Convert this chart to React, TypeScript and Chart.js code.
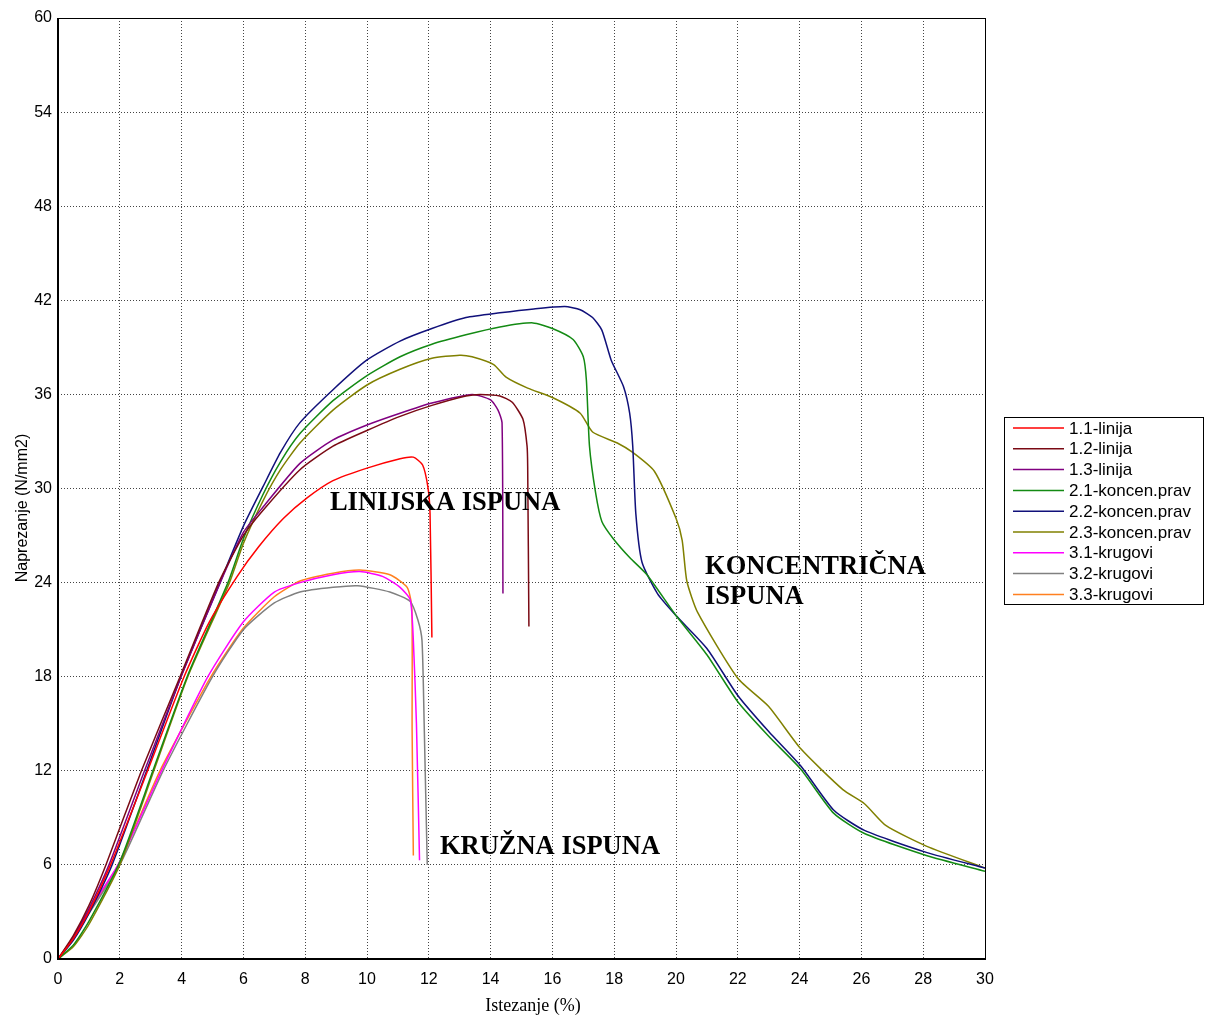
import React, { useEffect, useRef } from "react";
import { Chart, registerables } from "chart.js";

Chart.register(...registerables);

type P = { x: number; y: number };

// ---- Data (strain %, stress N/mm2) ----
const seriesNames = [
  "1.1-linija",
  "1.2-linija",
  "1.3-linija",
  "2.1-koncen.prav",
  "2.2-koncen.prav",
  "2.3-koncen.prav",
  "3.1-krugovi",
  "3.2-krugovi",
  "3.3-krugovi",
];

const seriesColors = [
  "#ff0000",
  "#7a0a14",
  "#800080",
  "#138a13",
  "#10107a",
  "#808000",
  "#ff00ff",
  "#808080",
  "#ff8020",
];

const s11: [number, number][] = [
  [0, 0], [0.5, 1.3], [1, 3.0], [1.7, 6], [2.9, 12], [4.08, 18], [4.9, 21.5], [5.8, 24.4],
  [6.5, 26.3], [7.3, 28.1], [8.06, 29.4], [8.9, 30.5], [10, 31.3], [11.07, 31.9],
  [11.5, 32.0], [11.8, 31.5], [11.97, 30.1], [12.04, 28.4], [12.1, 20.5],
];
const s12: [number, number][] = [
  [0, 0], [0.5, 1.5], [1, 3.4], [1.55, 6], [2.7, 12], [3.95, 18], [5.2, 24], [6.0, 27.0],
  [6.63, 28.6], [7.83, 31.2], [8.9, 32.7], [10, 33.7], [11.07, 34.6], [12.1, 35.3],
  [13.2, 35.9], [13.66, 36.0], [14.3, 35.9], [14.7, 35.5], [15.05, 34.4], [15.18, 32.7],
  [15.2, 31.4], [15.24, 21.2],
];
const s13: [number, number][] = [
  [0, 0], [0.5, 1.4], [1, 3.2], [1.65, 6], [2.8, 12], [3.98, 18], [5.25, 24], [6.0, 27.2],
  [6.63, 28.8], [7.83, 31.6], [8.9, 33.1], [10, 34.05], [11.07, 34.8], [12.1, 35.45],
  [13.4, 36.0], [14.0, 35.65], [14.24, 35.0], [14.37, 34.2], [14.4, 23.3],
];
const s21: [number, number][] = [
  [0, 0], [0.5, 0.9], [1, 2.4], [2, 6.2], [3.07, 12], [4.18, 18], [5.5, 24], [6.0, 26.8],
  [6.63, 29.6], [7.2, 31.7], [7.83, 33.5], [8.9, 35.6], [10, 37.2], [11.07, 38.4],
  [12.1, 39.2], [13.2, 39.8], [14.3, 40.3], [15.37, 40.56], [16.0, 40.2], [16.67, 39.5],
  [17.0, 38.4], [17.1, 36.9], [17.2, 32.7], [17.4, 29.7], [17.6, 27.9], [17.97, 26.8],
  [18.5, 25.6], [19.06, 24.5], [20, 21.9], [21, 19.4], [22, 16.4], [23, 14.2], [24.04, 12.1],
  [25.1, 9.3], [26.1, 8.0], [28.1, 6.6], [30, 5.6],
];
const s22: [number, number][] = [
  [0, 0], [0.5, 1.2], [1, 2.9], [1.75, 6], [2.87, 12], [3.98, 18], [5.24, 24], [6.0, 27.6],
  [6.63, 30.1], [7.2, 32.3], [7.83, 34.2], [8.9, 36.3], [10, 38.2], [11.07, 39.4],
  [12.1, 40.2], [13.2, 40.9], [14.3, 41.2], [15.4, 41.45], [16.4, 41.6], [16.9, 41.4],
  [17.3, 40.9], [17.6, 40.1], [17.9, 38.2], [18.3, 36.5], [18.5, 34.8], [18.6, 32.7],
  [18.7, 28.4], [18.9, 25.3], [19.4, 23.3], [20, 21.9], [21, 19.8], [22, 16.8], [23, 14.5],
  [24.04, 12.3], [25.1, 9.5], [26.1, 8.2], [28.1, 6.8], [30, 5.8],
];
const s23: [number, number][] = [
  [0, 0], [0.5, 0.8], [1, 2.2], [2, 6.0], [3.1, 12], [4.2, 18], [5.55, 24], [6.0, 26.5],
  [6.63, 29.2], [7.2, 31.2], [7.83, 32.9], [8.9, 35.0], [10, 36.6], [11.07, 37.6],
  [12.1, 38.3], [13.0, 38.5], [13.4, 38.4], [14.1, 37.9], [14.5, 37.1], [15.2, 36.4],
  [16.0, 35.8], [16.9, 34.8], [17.3, 33.6], [18.1, 32.9], [18.6, 32.3], [19.3, 31.1],
  [20.0, 28.1], [20.2, 26.7], [20.35, 24.1], [20.7, 22.1], [22, 17.9], [23, 16.1],
  [24.04, 13.4], [25.4, 10.8], [26.1, 9.9], [26.8, 8.5], [28.1, 7.2], [30, 5.8],
];
const s31: [number, number][] = [
  [0, 0], [0.5, 1.4], [1, 3.1], [1.94, 6], [3.35, 12], [4.85, 18], [6, 21.5], [7.0, 23.4],
  [7.83, 24.0], [8.9, 24.5], [9.77, 24.7], [10.5, 24.4], [11.07, 23.7], [11.4, 22.9],
  [11.5, 20.3], [11.6, 15], [11.7, 6.3],
];
const s32: [number, number][] = [
  [0, 0], [0.5, 1.3], [1, 2.9], [2.0, 6], [3.4, 12], [5.0, 18], [6, 21.0], [7, 22.7],
  [7.83, 23.4], [8.9, 23.7], [9.7, 23.8], [10.74, 23.4], [11.4, 22.8], [11.65, 21.6],
  [11.78, 20.3], [11.85, 15], [11.95, 6.0],
];
const s33: [number, number][] = [
  [0, 0], [0.5, 1.35], [1, 3.0], [1.95, 6], [3.3, 12], [4.95, 18], [6, 21.1], [7, 23.1],
  [7.83, 24.1], [8.9, 24.6], [9.77, 24.8], [10.74, 24.5], [11.3, 23.7], [11.45, 22.4],
  [11.46, 14.6], [11.5, 6.6],
];

const seriesData = [s11, s12, s13, s21, s22, s23, s31, s32, s33];

const xTicks = { min: 0, max: 30, step: 2 };
const yTicks = { min: 0, max: 60, step: 6 };

const xTitle = "Istezanje (%)";
const yTitle = "Naprezanje (N/mm2)";

// annotation texts, anchored at (strain, stress) of their left baseline
const annotationTexts = ["LINIJSKA ISPUNA", "KONCENTRIČNA", "ISPUNA", "KRUŽNA ISPUNA"];
const annotationX = [8.8, 20.94, 20.94, 12.36];
const annotationY = [28.64, 24.55, 22.64, 6.7];

const W = 1205;
const H = 1019;

const overlayPlugin = {
  id: "overlay",
  afterDraw(chart: any) {
    const { ctx, chartArea, scales } = chart;
    const { left, top, right, bottom } = chartArea;
    ctx.save();
    // frame
    ctx.strokeStyle = "#000";
    ctx.lineWidth = 1;
    ctx.strokeRect(left + 0.5, top + 0.5, right - left, bottom - top);
    ctx.lineWidth = 2;
    ctx.beginPath();
    ctx.moveTo(left, top);
    ctx.lineTo(left, bottom);
    ctx.lineTo(right, bottom);
    ctx.stroke();

    // annotations
    ctx.fillStyle = "#000";
    ctx.font = "bold 26.5px 'Liberation Serif', 'Times New Roman', serif";
    ctx.textAlign = "left";
    ctx.textBaseline = "alphabetic";
    annotationTexts.forEach((t, i) => {
      const px = scales.x.getPixelForValue(annotationX[i]);
      const py = scales.y.getPixelForValue(annotationY[i]);
      ctx.fillText(t, px, py);
    });

    // axis titles
    ctx.font = "18px 'Liberation Serif', 'Times New Roman', serif";
    ctx.textAlign = "center";
    ctx.textBaseline = "alphabetic";
    ctx.fillText(xTitle, 533, 1011);

    ctx.save();
    ctx.translate(27, 508);
    ctx.rotate(-Math.PI / 2);
    ctx.font = "16px 'Liberation Sans', Arial, sans-serif";
    ctx.textAlign = "center";
    ctx.textBaseline = "alphabetic";
    ctx.fillText(yTitle, 0, 0);
    ctx.restore();

    // legend
    const lx = 1004;
    const ly = 417;
    const lw = 199;
    ctx.fillStyle = "#fff";
    ctx.fillRect(lx, ly, lw, 188);
    ctx.strokeStyle = "#000";
    ctx.lineWidth = 1;
    ctx.strokeRect(lx + 0.5, ly + 0.5, lw, 187);
    ctx.font = "17px 'Liberation Sans', Arial, sans-serif";
    ctx.textAlign = "left";
    ctx.textBaseline = "middle";
    chart.data.datasets.forEach((ds: any, i: number) => {
      const yy = 428 + i * 20.8;
      ctx.strokeStyle = ds.borderColor;
      ctx.lineWidth = 1.5;
      ctx.beginPath();
      ctx.moveTo(1013, yy);
      ctx.lineTo(1064, yy);
      ctx.stroke();
      ctx.fillStyle = "#000";
      ctx.fillText(ds.label, 1069, yy + 1);
    });
    ctx.restore();
  },
};

export default function App() {
  const ref = useRef<HTMLCanvasElement | null>(null);

  useEffect(() => {
    if (!ref.current) return;
    const datasets = seriesData.map((arr, i) => ({
      label: seriesNames[i],
      data: arr.map(([x, y]) => ({ x, y })) as P[],
      borderColor: seriesColors[i],
      backgroundColor: seriesColors[i],
      borderWidth: 1.5,
      pointRadius: 0,
      showLine: true,
      tension: 0.2,
      fill: false,
    }));
    const tickFont = { family: "'Liberation Sans', Arial, sans-serif", size: 16 };
    const chart = new Chart(ref.current, {
      type: "scatter",
      data: { datasets },
      options: {
        animation: false,
        responsive: false,
        maintainAspectRatio: false,
        layout: { padding: { top: 18, right: W - 985, left: 0, bottom: 0 } },
        plugins: { legend: { display: false }, tooltip: { enabled: false } },
        scales: {
          x: {
            type: "linear",
            min: xTicks.min,
            max: xTicks.max,
            ticks: { stepSize: xTicks.step, color: "#000", font: tickFont, padding: 11, maxRotation: 0 },
            grid: { color: "#444", lineWidth: 1, drawTicks: false },
            border: { display: false, dash: [1, 2] },
            afterFit: (s: any) => {
              s.height = H - 959;
            },
          },
          y: {
            type: "linear",
            min: yTicks.min,
            max: yTicks.max,
            ticks: { stepSize: yTicks.step, color: "#000", font: tickFont, padding: 6 },
            grid: { color: "#444", lineWidth: 1, drawTicks: false },
            border: { display: false, dash: [1, 2] },
            afterFit: (s: any) => {
              s.width = 58;
            },
          },
        },
      } as any,
      plugins: [overlayPlugin],
    });
    return () => chart.destroy();
  }, []);

  return (
    <div style={{ position: "fixed", left: 0, top: 0, width: W, height: H, background: "#fff" }}>
      <canvas ref={ref} width={W} height={H} style={{ width: W, height: H }} />
    </div>
  );
}
